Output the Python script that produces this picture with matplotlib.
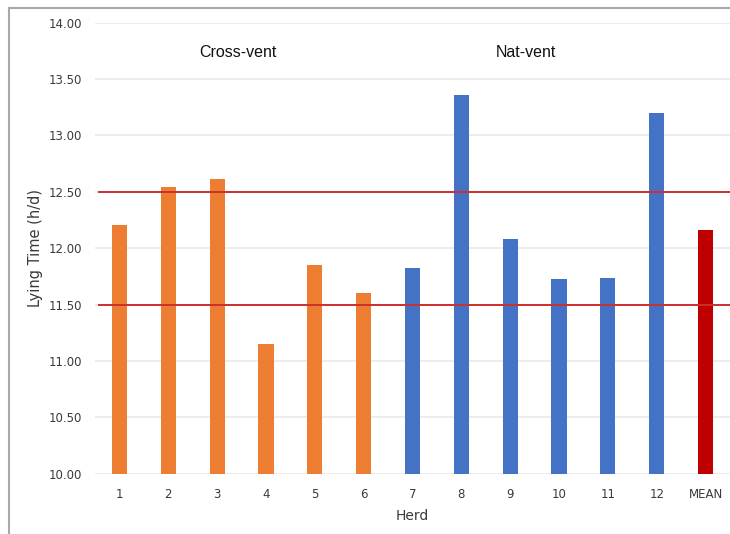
import matplotlib
matplotlib.use("Agg")
import matplotlib.pyplot as plt
from matplotlib.lines import Line2D

herds = ["1", "2", "3", "4", "5", "6", "7", "8", "9", "10", "11", "12", "MEAN"]
lying_time = [12.21, 12.54, 12.61, 11.15, 11.85, 11.60, 11.82, 13.36, 12.08, 11.73, 11.74, 13.20, 12.16]
groups = ["cross"] * 6 + ["nat"] * 6 + ["mean"]
group_colors = {"cross": "#ED7D31", "nat": "#4472C4", "mean": "#C00000"}
ref_lines = [11.5, 12.5]
yticks = [10.0, 10.5, 11.0, 11.5, 12.0, 12.5, 13.0, 13.5, 14.0]

plt.rcParams['font.family'] = ['DejaVu Sans']

fig = plt.figure(figsize=(7.30, 5.34), dpi=100)
ax = fig.add_axes([95/730, 1 - 473.7/534, 1 - 95/730, (473.7 - 22.7)/534])

x = list(range(len(herds)))
colors = [group_colors[g] for g in groups]
ax.bar(x, [v - 10 for v in lying_time], bottom=10, width=0.31, color=colors, zorder=3)

ax.set_ylim(10, 14)
ax.set_xlim(-0.5, len(herds) - 0.5)
ax.set_yticks(yticks)
ax.set_yticklabels([f"{t:.2f}" for t in yticks], fontsize=8.5, color="#3a3a3a")
ax.set_xticks(x)
ax.set_xticklabels(herds, fontsize=8.5, color="#3a3a3a")
ax.tick_params(axis='y', length=0, pad=9)
ax.tick_params(axis='x', length=0, pad=10)
ax.grid(axis='y', color="#ececec", linewidth=1.4, zorder=0)
for s in ax.spines.values():
    s.set_visible(False)

for r in ref_lines:
    ax.axhline(r, xmin=(99 - 95) / (730 - 95), xmax=1, color="#CC2F2F", linewidth=1.4, zorder=4)

ax.text(2.43, 13.74, "Cross-vent", ha="center", va="center", fontsize=11.5,
        color="#111111", family=["Liberation Sans", "DejaVu Sans"])
ax.text(8.33, 13.74, "Nat-vent", ha="center", va="center", fontsize=11.5,
        color="#111111", family=["Liberation Sans", "DejaVu Sans"])

ax.set_xlabel("Herd", fontsize=10, color="#3a3a3a", labelpad=6)
ax.set_ylabel("Lying Time (h/d)", fontsize=10.5, color="#3a3a3a", labelpad=4)

fig.add_artist(Line2D([9/730, 9/730], [0, 1 - 8/534], color="#a8a8a8", linewidth=1.5))
fig.add_artist(Line2D([9/730, 1], [1 - 8/534, 1 - 8/534], color="#a8a8a8", linewidth=1.5))

fig.savefig("out.png", dpi=100)
